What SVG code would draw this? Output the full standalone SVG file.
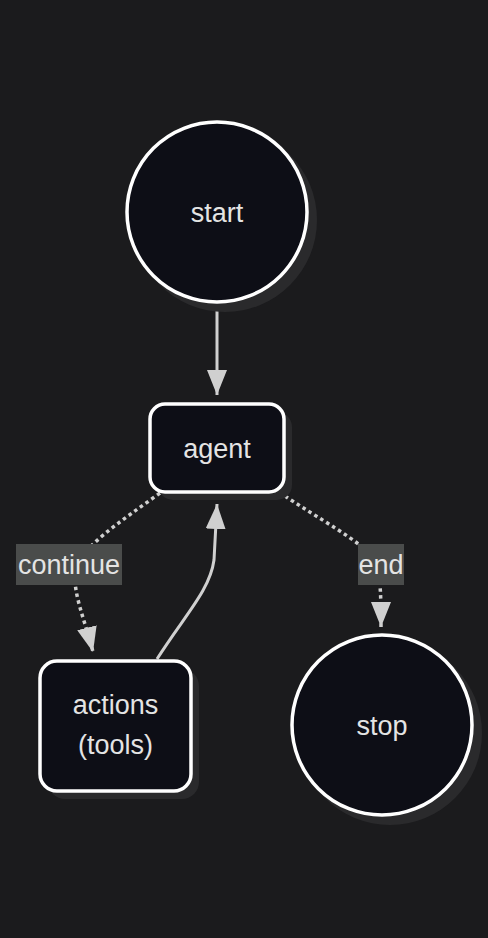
<svg xmlns="http://www.w3.org/2000/svg" width="488" height="938" viewBox="0 0 488 938">
<style>
.node{fill:#0d0e16;stroke:#ffffff;stroke-width:3.5}
.shadow{fill:#2a2a2c}
.lbl{font-family:"Liberation Sans",Arial,sans-serif;font-size:27px;fill:#e4e4e4;text-anchor:middle}
.edge{fill:none;stroke:#d0d0d0;stroke-width:3}
.dot{stroke-width:3.5;stroke-dasharray:3.5 3.5}
.ebox{fill:#4a4c4b}
</style>
<defs>
<marker id="arr" viewBox="0 0 25 20" refX="25" refY="10" markerWidth="25" markerHeight="20" markerUnits="userSpaceOnUse" orient="auto">
<path d="M0,0 L25,10 L0,20 Z" fill="#d0d0d0"/>
</marker>
</defs>
<rect width="488" height="938" fill="#1b1b1d"/>
<g id="connectors">
<path class="edge" d="M217,303 L217,395" marker-end="url(#arr)"/>
<path class="edge" d="M157,659 C185,615 210,590 214,560 L217,504" marker-end="url(#arr)"/>
<path class="edge dot" d="M160,493 C120,522 80,548 75,570 C73,595 85,620 93,652" marker-end="url(#arr)"/>
<path class="edge dot" d="M279,492 C320,520 360,540 375,560 C381,575 381,600 381,627" marker-end="url(#arr)"/>
</g>
<g id="start">
<circle class="shadow" cx="225" cy="220" r="92"/>
<circle class="node" cx="217" cy="212" r="90"/>
<text class="lbl" x="217" y="222">start</text>
</g>
<g id="agent">
<rect class="shadow" x="158" y="412" width="134" height="88" rx="15"/>
<rect class="node" x="150" y="404" width="134" height="88" rx="15"/>
<text class="lbl" x="217" y="458">agent</text>
</g>
<g id="actions">
<rect class="shadow" x="48" y="669" width="151" height="130" rx="17"/>
<rect class="node" x="40" y="661" width="151" height="130" rx="17"/>
<text class="lbl" x="115.5" y="714">actions</text>
<text class="lbl" x="115.5" y="754">(tools)</text>
</g>
<g id="stop">
<circle class="shadow" cx="390" cy="733" r="92"/>
<circle class="node" cx="382" cy="725" r="90"/>
<text class="lbl" x="382" y="735">stop</text>
</g>
<g id="edge-labels">
<g id="label-continue">
<rect class="ebox" x="16" y="544" width="106" height="41"/>
<text class="lbl" x="69" y="574">continue</text>
</g>
<g id="label-end">
<rect class="ebox" x="358" y="544" width="46" height="41"/>
<text class="lbl" x="381" y="574">end</text>
</g>
</g>
</svg>
